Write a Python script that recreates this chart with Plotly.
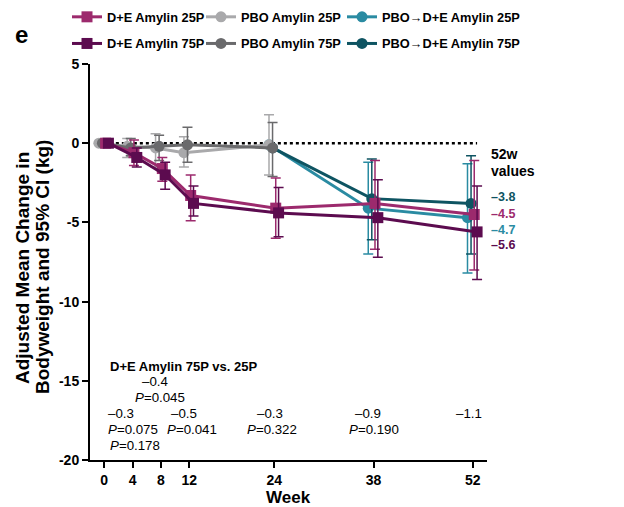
import plotly.graph_objects as go

# ---- data -------------------------------------------------------------
weeks_de = [0, 4, 8, 12, 24, 38, 52]
weeks_pbo = [0, 4, 8, 12, 24]
weeks_switch = [24, 38, 52]

de25_mean = [0, -0.6, -1.6, -3.3, -4.1, -3.8, -4.5]
de25_lo = [0, -1.4, -2.4, -4.9, -6.0, -6.7, -8.0]
de25_hi = [0, 0.2, -0.9, -2.0, -2.2, -1.1, -1.1]

de75_mean = [0, -0.9, -2.0, -3.8, -4.4, -4.7, -5.6]
de75_lo = [0, -1.5, -2.9, -4.6, -5.9, -7.2, -8.6]
de75_hi = [0, -0.3, -1.2, -2.7, -2.8, -2.3, -2.7]

pbo25_mean = [0, -0.2, -0.3, -0.6, -0.1]
pbo25_lo = [0, -0.9, -1.5, -1.5, -2.0]
pbo25_hi = [0, 0.3, 0.6, 0.4, 1.8]

pbo75_mean = [0, -0.3, -0.2, -0.1, -0.3]
pbo75_lo = [0, -0.8, -1.1, -1.2, -2.1]
pbo75_hi = [0, 0.3, 0.5, 1.0, 1.3]

sw25_mean = [-0.1, -4.1, -4.7]
sw25_lo = [-0.1, -7.0, -8.2]
sw25_hi = [-0.1, -1.2, -1.3]

sw75_mean = [-0.3, -3.5, -3.8]
sw75_lo = [-0.3, -6.1, -7.0]
sw75_hi = [-0.3, -1.0, -0.8]

# 75P vs 25P comparison text per week
cmp_weeks = [4, 8, 12, 24, 38, 52]
cmp_diff = ["–0.3", "–0.4", "–0.5", "–0.3", "–0.9", "–1.1"]
cmp_p = ["0.075", "0.045", "0.041", "0.322", "0.190", None]

end_values = ["–3.8", "–4.5", "–4.7", "–5.6"]

# ---- styling ----------------------------------------------------------
C_DE25 = "#9C2A6D"
C_DE75 = "#5C0B4F"
C_PBO25 = "#A9A9AB"
C_PBO75 = "#6A6A6C"
C_SW25 = "#2A8BA2"
C_SW75 = "#0E5462"
FONT = "Arial, Liberation Sans, sans-serif"

# plot area in pixels
W_FIG, H_FIG = 624, 507
L, R, T, B = 90, 487, 64, 460
PW, PH = R - L, B - T


def px_x(px):
    return (px - L) / PW


def px_y(py):
    return (B - py) / PH


def series(name, x, mean, lo, hi, color, symbol, dodge, legend):
    xs = [v + dodge for v in x]
    return go.Scatter(
        x=xs, y=mean, name=name, mode="lines+markers",
        legend=legend, legendgroup=name,
        line=dict(color=color, width=3),
        marker=dict(color=color, symbol=symbol, size=11, line=dict(width=0)),
        error_y=dict(type="data", symmetric=False,
                     array=[h - m for h, m in zip(hi, mean)],
                     arrayminus=[m - l for m, l in zip(mean, lo)],
                     color=color, thickness=1.5, width=5),
        cliponaxis=False,
    )


fig = go.Figure()
# drawn back to front
fig.add_trace(series("PBO→D+E Amylin 25P", weeks_switch, sw25_mean, sw25_lo, sw25_hi, C_SW25, "circle", -0.75, "legend3"))
fig.add_trace(series("PBO→D+E Amylin 75P", weeks_switch, sw75_mean, sw75_lo, sw75_hi, C_SW75, "circle", -0.25, "legend3"))
fig.add_trace(series("PBO Amylin 25P", weeks_pbo, pbo25_mean, pbo25_lo, pbo25_hi, C_PBO25, "circle", -0.75, "legend2"))
fig.add_trace(series("PBO Amylin 75P", weeks_pbo, pbo75_mean, pbo75_lo, pbo75_hi, C_PBO75, "circle", -0.25, "legend2"))
fig.add_trace(series("D+E Amylin 25P", weeks_de, de25_mean, de25_lo, de25_hi, C_DE25, "square", 0.2, "legend"))
fig.add_trace(series("D+E Amylin 75P", weeks_de, de75_mean, de75_lo, de75_hi, C_DE75, "square", 0.6, "legend"))

# zero reference line
fig.add_shape(type="line", xref="x", yref="y", x0=0.8, x1=52.6, y0=0, y1=0,
              line=dict(color="black", width=2.5, dash="dot"), layer="below")


def label(text, px, py, size, xanchor="center", color="black", angle=0):
    return dict(text=text, xref="paper", yref="paper", x=px_x(px), y=px_y(py),
                xanchor=xanchor, yanchor="middle", showarrow=False, textangle=angle,
                font=dict(size=size, color=color))


ann = []
# panel letter
ann.append(label("<b>e</b>", 13, 35, 24, xanchor="left"))
# y axis title (two lines, tightly spaced)
ann.append(label("<b>Adjusted Mean Change in</b>", 22, 268, 19, angle=-90))
ann.append(label("<b>Bodyweight and 95% CI (kg)</b>", 42, 267, 19, angle=-90))
# x axis title
ann.append(label("<b>Week</b>", 288, 497, 17))

# comparison block
ann.append(label("<b>D+E Amylin 75P vs. 25P</b>", 108, 366, 13, xanchor="left"))
cmp_pos = {4: (121, 413, 133, 429), 8: (155, 381, 160, 397), 12: (184, 413, 192, 429),
           24: (270, 413, 272, 429), 38: (368, 413, 374, 429), 52: (469, 413, None, None)}
for wk, d, p in zip(cmp_weeks, cmp_diff, cmp_p):
    dx, dy, ppx, ppy = cmp_pos[wk]
    ann.append(label(d, dx, dy, 13.3))
    if p is not None:
        ann.append(label(f"<i>P</i>={p}", ppx, ppy, 13.3))
ann.append(label("<i>P</i>=0.178", 108, 445, 13.3, xanchor="left"))

# 52-week value labels
ann.append(label("<b>52w</b>", 489, 154, 14, xanchor="left"))
ann.append(label("<b>values</b>", 489, 171, 14, xanchor="left"))
for val, col, py in zip(end_values, [C_SW75, C_DE25, C_SW25, C_DE75], [197, 214, 230, 245]):
    ann.append(label(f"<b>{val}</b>", 489, py, 12.5, xanchor="left", color=col))


def legend_box(px_left):
    return dict(orientation="v", x=px_x(px_left), y=px_y(2), xanchor="left", yanchor="top",
                traceorder="grouped", tracegroupgap=7,
                font=dict(size=12.8, weight="bold", color="black"),
                bgcolor="rgba(0,0,0,0)", borderwidth=0)


fig.update_layout(
    width=W_FIG, height=H_FIG,
    margin=dict(l=L, r=W_FIG - R, t=T, b=H_FIG - B, pad=0, autoexpand=False),
    paper_bgcolor="white", plot_bgcolor="white",
    font=dict(family=FONT, color="black"),
    annotations=ann,
    showlegend=True,
    legend=legend_box(67),
    legend2=legend_box(201),
    legend3=legend_box(342),
    xaxis=dict(range=[-2, 54], tickvals=[0, 4, 8, 12, 24, 38, 52],
               showgrid=False, zeroline=False, showline=True, linecolor="black", linewidth=2,
               ticks="outside", ticklen=6, tickwidth=2, tickcolor="black",
               tickfont=dict(size=14, weight="bold", color="black")),
    yaxis=dict(range=[-20, 5], tickvals=[5, 0, -5, -10, -15, -20],
               ticktext=["5", "0", "-5", "-10", "-15", "-20"],
               showgrid=False, zeroline=False, showline=True, linecolor="black", linewidth=2,
               ticks="outside", ticklen=6, tickwidth=2, tickcolor="black",
               tickfont=dict(size=14, weight="bold", color="black")),
)

fig.write_html("out.html")
